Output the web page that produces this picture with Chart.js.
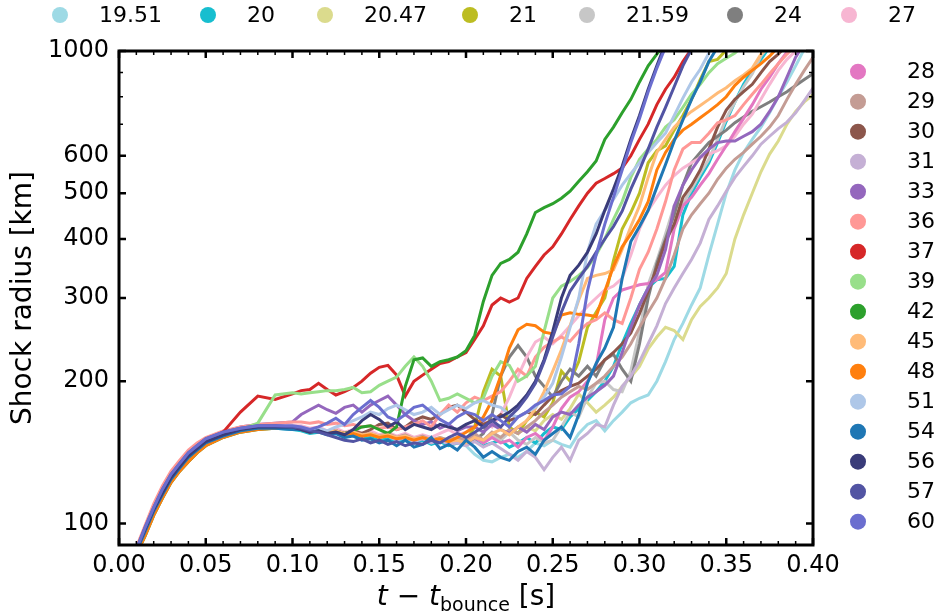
<!DOCTYPE html>
<html>
<head>
<meta charset="utf-8">
<script src="https://cdn.jsdelivr.net/npm/chart.js@4.4.0/dist/chart.umd.min.js"></script>
<style>
  html, body { margin: 0; padding: 0; background: #ffffff; }
  #wrap { width: 940px; height: 613px; position: relative; }
</style>
</head>
<body>
<div id="wrap"><canvas id="c" width="940" height="613"></canvas></div>
<script>
// time after bounce [s]
const T = [0.010,0.015,0.020,0.025,0.030,0.035,0.040,0.045,0.050,0.060,0.070,0.080,0.090,0.100,
  0.105,0.110,0.115,0.120,0.125,0.130,0.135,0.140,0.145,0.150,0.155,0.160,0.165,0.170,0.175,0.180,0.185,0.190,0.195,0.200,
  0.205,0.210,0.215,0.220,0.225,0.230,0.235,0.240,0.245,0.250,0.255,0.260,0.265,0.270,0.275,0.280,0.285,0.290,0.295,0.300,
  0.305,0.310,0.315,0.320,0.325,0.330,0.335,0.340,0.345,0.350,0.355,0.360,0.365,0.370,0.375,0.380,0.385,0.390,0.395,0.400];

// progenitor masses (legend labels)
const masses = ['19.51','20','20.47','21','21.59','24','27','28','29','30','31','33','36','37','39','42','45','48','51','54','56','57','60'];
const colors = ['#9edae5','#17becf','#dbdb8d','#bcbd22','#c7c7c7','#7f7f7f','#f7b6d2','#e377c2','#c49c94','#8c564b','#c5b0d5','#9467bd',
  '#ff9896','#d62728','#98df8a','#2ca02c','#ffbb78','#ff7f0e','#aec7e8','#1f77b4','#393b79','#5254a3','#6b6ecf'];

// shock radius [km] per model, sampled on T
const r_19_51 = [88,97,107,116,125,132,139,144,149,154,158,160,160,159,
  158,156,158,155,157,154,156,153,155,152,154,151,153,150,152,149,150,147,148,146,
  140,136,135,138,140,138,142,148,146,150,147,145,155,162,165,157,165,172,180,184,187,200,220,245,265,290,315,370,430,500,560,610,650,690,740,800,860,930,1010];
const r_20 = [87,96,106,115,124,131,138,143,148,153,157,159,159,158,
  157,155,156,154,155,152,154,151,152,150,151,149,150,148,150,147,149,146,148,147,
  150,146,148,150,145,148,152,148,155,160,158,168,175,182,190,200,215,240,265,290,315,328,330,350,450,500,540,580,640,710,780,850,910,960,1020];
const r_20_47 = [88,97,107,116,125,132,139,144,149,154,158,160,160,160,
  159,157,158,156,157,155,157,154,156,153,155,152,154,151,153,150,152,150,152,150,
  153,150,155,152,158,155,160,157,165,170,166,175,188,180,172,178,185,195,204,215,234,248,260,256,245,270,288,300,315,338,400,450,500,555,605,645,700,745,780,808];
const r_21 = [88,97,107,116,125,132,139,144,149,154,158,160,160,160,
  159,157,158,155,157,154,156,153,155,152,154,151,153,150,152,150,151,149,151,150,
  160,190,212,205,160,155,165,172,168,180,210,200,220,260,280,300,360,420,455,500,580,615,630,680,730,790,870,950,960,1005];
const r_21_59 = [88,97,107,116,125,132,139,144,149,154,158,160,160,160,
  159,157,158,156,157,155,156,154,155,153,154,152,153,151,152,150,151,149,150,148,
  152,148,153,150,156,150,147,152,148,150,160,172,168,185,198,200,192,190,210,255,320,360,410,470,475,510,550,590,650,720,780,840,895,975,1030];
const r_24 = [88,97,107,116,125,132,139,144,149,154,158,160,160,160,
  159,157,158,155,157,154,156,153,155,152,154,151,152,150,151,149,150,148,149,147,
  150,155,170,205,225,238,225,205,195,185,200,212,205,215,205,222,228,212,200,240,300,355,400,450,520,580,610,640,660,680,705,725,745,762,780,800,820,845,870,895];
const r_27 = [89,98,108,118,127,134,141,146,150,155,159,161,161,161,
  161,159,160,157,159,156,158,155,157,154,156,153,155,152,154,152,155,158,154,156,
  160,165,160,170,185,205,225,242,248,240,250,262,275,288,300,312,318,330,370,420,460,490,520,545,565,580,595,605,615,630,660,700,735,790,850,910,960,1000,1040];
const r_28 = [88,97,107,116,125,132,139,144,149,154,158,160,160,160,
  159,157,158,155,157,154,156,153,155,152,154,151,153,150,152,149,151,148,150,149,
  152,148,152,148,150,145,152,155,150,160,175,185,190,200,215,270,300,312,316,320,322,328,340,420,470,490,520,550,590,630,675,720,770,830,880,940,995,1040];
const r_29 = [88,97,107,116,125,132,139,144,149,154,158,160,160,160,
  159,157,158,156,157,155,156,154,155,153,155,152,154,151,153,150,152,150,152,150,
  155,150,156,152,158,155,160,165,172,178,185,190,195,192,198,205,215,225,240,260,280,300,330,370,420,450,475,500,535,565,590,610,635,660,690,730,790,850,910,970];
const r_30 = [88,97,107,116,125,132,139,144,149,154,158,160,160,160,
  159,157,158,156,157,155,157,155,158,162,163,158,160,165,168,166,170,176,178,172,
  166,162,165,170,165,168,172,170,178,186,191,195,198,205,212,222,230,240,253,278,310,348,395,430,490,520,560,620,690,750,790,820,850,900,950,985,1030];
const r_31 = [88,97,107,116,125,132,139,144,149,154,158,160,160,160,
  159,157,158,155,157,154,156,153,155,152,153,150,152,149,151,148,150,147,148,146,
  149,145,148,144,140,136,142,138,130,138,145,136,150,155,162,160,178,195,205,220,240,262,292,315,338,362,392,440,470,505,540,570,600,635,660,685,707,740,785,835];
const r_33 = [88,98,108,118,127,134,141,146,151,156,160,162,163,164,
  170,174,178,174,171,176,178,172,178,182,186,178,170,165,162,164,159,162,157,160,
  160,156,162,158,155,160,156,162,158,168,172,170,178,185,190,196,205,230,260,290,315,335,380,470,520,560,595,620,640,645,645,660,675,700,745,800,880,970,1040];
const r_36 = [89,99,110,120,129,136,143,148,152,157,160,162,163,164,
  164,163,164,162,163,161,162,160,161,159,160,158,160,162,165,160,170,178,172,180,
  185,182,186,190,200,212,205,225,236,242,248,243,255,265,270,279,270,265,300,345,375,420,480,560,620,640,640,670,705,715,730,770,810,850,895,940,985,1030];
const r_37 = [88,97,107,116,125,132,139,144,149,156,172,186,183,188,
  191,192,198,192,187,190,194,200,208,214,216,206,186,200,206,212,218,220,225,230,
  245,262,290,300,294,300,330,350,370,385,410,440,470,500,525,537,550,565,600,650,700,770,830,880,950,1010];
const r_39 = [88,97,107,116,125,132,139,144,149,154,158,163,187,189,
  188,189,190,191,191,192,194,189,190,196,200,204,215,225,215,200,182,184,188,184,
  180,184,205,220,216,200,205,215,255,300,318,325,335,348,370,400,440,480,540,590,620,650,690,715,760,810,850,900,940,965,990,1030];
const r_42 = [86,94,104,113,122,129,135,141,146,152,156,158,159,159,
  158,157,157,156,156,155,157,160,161,158,155,160,195,222,224,215,220,222,225,232,
  250,295,335,355,362,375,410,455,466,475,488,505,530,555,585,650,690,740,790,860,930,985,1040];
const r_45 = [88,97,107,116,125,132,139,144,149,154,158,160,160,160,
  159,157,158,156,157,155,156,154,155,153,154,152,153,151,152,150,151,149,150,148,
  152,150,155,158,154,160,165,175,190,210,233,262,297,330,335,338,344,380,425,470,540,610,650,690,720,745,767,790,815,836,865,890,920,985,1030];
const r_48 = [86,94,104,113,122,129,135,141,146,152,156,158,159,159,
  158,156,157,155,156,154,155,153,154,152,153,151,152,150,152,150,151,149,152,156,
  160,168,182,205,235,257,264,262,254,252,276,279,277,276,274,310,350,385,410,440,480,560,610,650,680,700,722,745,770,800,846,880,910,940,975,1020];
const r_51 = [88,97,107,116,125,132,139,144,149,154,158,160,160,160,
  160,158,159,157,160,162,165,168,172,170,175,178,174,170,172,176,170,174,178,175,
  180,182,178,176,170,168,172,176,185,198,225,260,300,375,430,460,485,520,550,580,610,640,670,730,795,860,915,990,1040];
const r_54 = [87,96,106,115,124,131,138,143,148,153,157,159,159,158,
  158,156,157,154,155,152,153,150,151,148,150,146,150,145,147,152,144,147,143,150,
  145,138,142,138,136,142,145,140,150,155,160,152,170,198,218,235,260,330,395,425,460,515,575,645,715,790,860,950,1020];
const r_56 = [88,97,107,116,125,132,139,144,149,154,158,160,160,160,
  158,156,157,155,156,154,158,165,170,166,160,164,158,162,160,158,162,160,158,162,
  165,160,165,168,172,178,187,200,222,255,300,335,352,375,410,460,510,570,650,730,830,930,1040];
const r_57 = [88,98,108,118,127,134,141,146,151,156,159,161,161,160,
  159,157,156,154,152,150,149,151,148,150,147,149,146,148,147,150,148,152,155,152,
  156,160,165,160,168,175,185,198,220,248,280,310,330,350,375,400,425,458,510,560,620,690,760,840,930,1010];
const r_60 = [88,98,108,118,127,134,141,146,151,156,159,161,161,161,
  160,158,160,163,167,162,170,176,182,176,168,165,170,176,178,172,166,162,168,172,
  170,165,170,165,160,168,172,178,182,187,188,195,240,310,370,430,490,560,640,720,820,920,1020];

const radii = [r_19_51,r_20,r_20_47,r_21,r_21_59,r_24,r_27,r_28,r_29,r_30,r_31,r_33,
  r_36,r_37,r_39,r_42,r_45,r_48,r_51,r_54,r_56,r_57,r_60];

// axis ticks
const xTicks = [0.00,0.05,0.10,0.15,0.20,0.25,0.30,0.35,0.40];
const yTicks = [100,200,300,400,500,600,1000];
const yMinor = [700,800,900];

// legend split: first row across the top, the rest down the right side
const topCount = 7;

const FONT = '"DejaVu Sans", "Liberation Sans", sans-serif';

const decor = {
  id: 'decor',
  afterDatasetsDraw(chart) {
    const { ctx, chartArea: a, scales: { x, y } } = chart;
    ctx.save();
    ctx.strokeStyle = '#000';
    ctx.lineCap = 'butt';

    // inward ticks on all four sides
    const xMinor = [];
    for (let k = 1; k < 40; k++) if (k % 5 !== 0) xMinor.push(k / 100);
    ctx.lineWidth = 1.5;
    ctx.beginPath();
    xMinor.forEach(v => {
      const px = x.getPixelForValue(v);
      ctx.moveTo(px, a.bottom); ctx.lineTo(px, a.bottom - 4);
      ctx.moveTo(px, a.top); ctx.lineTo(px, a.top + 4);
    });
    yMinor.forEach(v => {
      const py = y.getPixelForValue(v);
      ctx.moveTo(a.left, py); ctx.lineTo(a.left + 4, py);
      ctx.moveTo(a.right, py); ctx.lineTo(a.right - 4, py);
    });
    ctx.stroke();
    ctx.lineWidth = 2.5;
    ctx.beginPath();
    xTicks.forEach(v => {
      const px = x.getPixelForValue(v);
      ctx.moveTo(px, a.bottom); ctx.lineTo(px, a.bottom - 7);
      ctx.moveTo(px, a.top); ctx.lineTo(px, a.top + 7);
    });
    yTicks.forEach(v => {
      const py = y.getPixelForValue(v);
      ctx.moveTo(a.left, py); ctx.lineTo(a.left + 7, py);
      ctx.moveTo(a.right, py); ctx.lineTo(a.right - 7, py);
    });
    ctx.stroke();

    // frame
    ctx.lineWidth = 3;
    ctx.strokeRect(a.left, a.top, a.right - a.left, a.bottom - a.top);

    // y-axis title
    ctx.fillStyle = '#000';
    ctx.save();
    ctx.translate(24, (a.top + a.bottom) / 2);
    ctx.rotate(-Math.PI / 2);
    ctx.font = '28px ' + FONT;
    ctx.textAlign = 'center';
    ctx.textBaseline = 'middle';
    ctx.fillText('Shock radius [km]', 0, 0);
    ctx.restore();

    // x-axis title: t − t_bounce [s]
    const parts = [
      { s: 't', f: 'italic 28px ' + FONT, dy: 0 },
      { s: ' \u2212 ', f: '28px ' + FONT, dy: 0 },
      { s: 't', f: 'italic 28px ' + FONT, dy: 0 },
      { s: 'bounce', f: '19px ' + FONT, dy: 6 },
      { s: ' [s]', f: '28px ' + FONT, dy: 0 }
    ];
    let total = 0;
    parts.forEach(p => { ctx.font = p.f; p.w = ctx.measureText(p.s).width; total += p.w; });
    let cx = (a.left + a.right) / 2 - total / 2;
    const base = 605;
    ctx.textAlign = 'left';
    ctx.textBaseline = 'alphabetic';
    parts.forEach(p => { ctx.font = p.f; ctx.fillText(p.s, cx, base + p.dy); cx += p.w; });

    // legends
    ctx.font = '22px ' + FONT;
    ctx.textBaseline = 'middle';
    const topX = [60, 208, 325, 470, 587, 735, 849];
    masses.forEach((m, i) => {
      let mx, my, tx;
      if (i < topCount) { mx = topX[i]; my = 15; tx = mx + 39; }
      else { mx = 858; my = 71.7 + 30 * (i - topCount); tx = 907; }
      ctx.fillStyle = colors[i];
      ctx.beginPath(); ctx.arc(mx, my, 8, 0, Math.PI * 2); ctx.fill();
      ctx.fillStyle = '#000';
      ctx.fillText(m, tx, my + 1);
    });
    ctx.restore();
  }
};

new Chart(document.getElementById('c'), {
  type: 'line',
  data: {
    datasets: masses.map((m, i) => ({
      label: m,
      data: radii[i].map((r, j) => ({ x: T[j], y: r })),
      borderColor: colors[i],
      backgroundColor: colors[i],
      borderWidth: 3,
      pointRadius: 0,
      tension: 0,
      fill: false,
      order: masses.length - i
    }))
  },
  options: {
    responsive: false,
    animation: false,
    devicePixelRatio: 1,
    layout: { padding: { left: 0, top: 51, right: 127, bottom: 0 } },
    plugins: { legend: { display: false }, tooltip: { enabled: false } },
    scales: {
      x: {
        type: 'linear', min: 0, max: 0.4,
        afterBuildTicks: s => { s.ticks = xTicks.map(v => ({ value: v })); },
        afterFit: s => { s.height = 68; },
        grid: { display: false, drawTicks: false },
        border: { display: false },
        ticks: { autoSkip: false, maxRotation: 0, minRotation: 0, padding: 6, color: '#000',
                 font: { family: FONT, size: 24 }, callback: v => Number(v).toFixed(2) }
      },
      y: {
        type: 'logarithmic', min: 90, max: 1000,
        afterBuildTicks: s => { s.ticks = yTicks.map(v => ({ value: v })); },
        afterFit: s => { s.width = 119; },
        grid: { display: false, drawTicks: false },
        border: { display: false },
        ticks: { autoSkip: false, padding: 10, color: '#000',
                 font: { family: FONT, size: 24 }, callback: v => String(v) }
      }
    }
  },
  plugins: [decor]
});
</script>
</body>
</html>
